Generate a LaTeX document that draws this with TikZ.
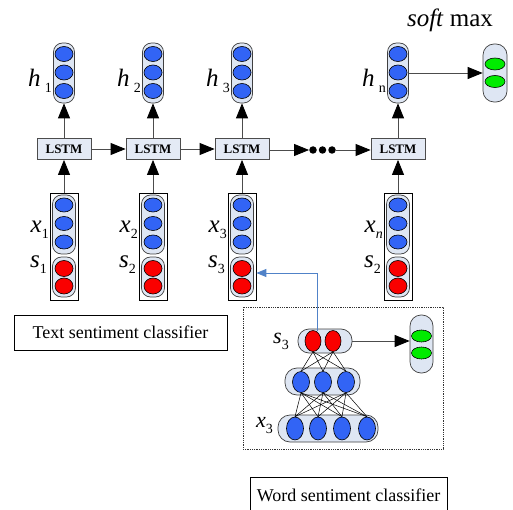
\documentclass[tikz,border=0pt]{standalone}
\usepackage{fontspec}
\setmainfont{Liberation Serif}
\usepackage{xcolor}
\usetikzlibrary{arrows.meta, shapes.geometric, positioning, calc}

\definecolor{capfill}{RGB}{222,230,243}
\definecolor{lstmfill}{RGB}{228,234,245}
\definecolor{unitblue}{RGB}{50,100,245}
\definecolor{unitred}{RGB}{250,0,0}
\definecolor{unitgreen}{RGB}{0,235,0}
\definecolor{linkblue}{RGB}{80,130,200}

\newcommand{\lowsub}[1]{\raisebox{-6pt}{\upshape\fontsize{14}{14}\selectfont #1}}

\begin{document}
\begin{tikzpicture}[x=1pt, y=-1pt,
    capsule/.style={draw=black!75, fill=capfill, rounded corners=9pt, inner sep=0pt, line width=0.7pt},
    unit/.style={ellipse, draw=black, line width=0.6pt, minimum width=18pt, minimum height=15pt, inner sep=0pt},
    blue unit/.style={unit, fill=unitblue},
    red unit/.style={unit, fill=unitred},
    green unit/.style={unit, fill=unitgreen, minimum width=20pt, minimum height=12pt},
    vecbox/.style={draw, line width=0.7pt, minimum width=28pt, minimum height=107pt, inner sep=0pt},
    lstm/.style={draw=black!70, fill=lstmfill, line width=0.8pt, minimum width=54pt, minimum height=21pt, inner sep=0pt, font=\fontsize{13}{14}\selectfont\bfseries},
    vlabel/.style={anchor=base east, inner sep=0pt, font=\fontsize{25}{27}\selectfont\itshape},
    wlabel/.style={anchor=base east, inner sep=0pt, font=\fontsize{22}{24}\selectfont\itshape},
    dot/.style={circle, fill=black, minimum size=7.5pt, inner sep=0pt},
    flow/.style={draw=black!70, line width=0.8pt, -{Triangle[length=15pt, width=12pt, color=black]}},
    link/.style={draw=linkblue, line width=0.8pt, -{Triangle[length=10pt, width=8pt]}},
    wire/.style={draw=black, line width=0.5pt},
    textbox/.style={draw, line width=0.7pt, minimum height=35pt, inner sep=0pt, font=\fontsize{18}{20}\selectfont}
]
\useasboundingbox (0,0) rectangle (513,510);

% Sentence level: columns
\foreach \i/\x/\hs/\xs/\ss in {1/64/1/1/1, 2/153/2/2/2, 3/242/3/3/3, n/398/n/\textit{n}/2} {
    % hidden states
    \node[capsule, minimum width=21pt, minimum height=60pt] (h\i) at (\x,73) {};
    \foreach \j/\y in {1/54, 2/72.5, 3/91}
        \node[blue unit] (h\i-\j) at (\x,\y) {};
    \node[vlabel] (lh\i) at (\x-12,87) {h\,\lowsub{\hs}};
    % LSTM cell
    \node[lstm] (l\i) at (\x,149) {LSTM};
    % input vectors
    \node[vecbox] (x\i) at (\x,246.5) {};
    \node[capsule, minimum width=23pt, minimum height=59pt] (xc\i) at (\x,224.5) {};
    \foreach \j/\y in {1/205, 2/223.5, 3/242}
        \node[blue unit, minimum height=14pt] (x\i-\j) at (\x,\y) {};
    \node[capsule, minimum width=23pt, minimum height=40pt] (sc\i) at (\x,277) {};
    \foreach \j/\y in {1/268.5, 2/286}
        \node[red unit, minimum height=16pt] (s\i-\j) at (\x,\y) {};
    \node[vlabel] (lx\i) at (\x-15,233) {x\lowsub{\xs}};
    \node[vlabel] (ls\i) at (\x-17,267) {s\lowsub{\ss}};
    % arrows
    \draw[flow] (x\i) -- (l\i);
    \draw[flow] (l\i) -- (h\i);
}

% chain
\node[dot] (d1) at (313,150) {};
\node[dot] (d2) at (322.5,150) {};
\node[dot] (d3) at (332,150) {};
\draw[flow] (l1) -- (l2);
\draw[flow] (l2) -- (l3);
\draw[flow] (l3.east |- d1) -- (d1);
\draw[flow] (d3) -- (ln.west |- d3);

% softmax
\node[font=\fontsize{25}{28}\selectfont] (smlabel) at (450,20) {\textit{soft} max};
\node[capsule, minimum width=24pt, minimum height=58pt, rounded corners=11pt] (sm) at (495,73) {};
\node[green unit] (sm-1) at (495,64) {};
\node[green unit] (sm-2) at (495,81.5) {};
\draw[flow] (hn) -- (sm);

\node[textbox, minimum width=213pt] (tsc) at (120.5,332.5) {Text sentiment classifier};

% Word level
\node[draw=black!80, densely dotted, line width=0.8pt, minimum width=200pt, minimum height=142pt] (wframe) at (343,378) {};

\node[capsule, minimum width=54pt, minimum height=24pt, rounded corners=11pt] (wscap) at (325,341) {};
\node[capsule, minimum width=75pt, minimum height=27pt, rounded corners=12pt] (wmcap) at (322.5,381.5) {};
\node[capsule, minimum width=100pt, minimum height=27pt, rounded corners=12pt] (wxcap) at (328,428.5) {};
\foreach \j/\x in {1/313, 2/333}
    \node[red unit, minimum width=16pt, minimum height=21pt] (ws\j) at (\x,341) {};
\foreach \j/\x in {1/301, 2/323, 3/346}
    \node[blue unit, minimum width=17pt, minimum height=21pt] (wm\j) at (\x,382) {};
\foreach \j/\x in {1/295, 2/318, 3/342, 4/367}
    \node[blue unit, minimum width=17pt, minimum height=23pt] (wx\j) at (\x,428.5) {};
\foreach \a in {1,2}
    \foreach \b in {1,2,3}
        \draw[wire] (ws\a.south) -- (wm\b.north);
\foreach \a in {1,2,3}
    \foreach \b in {1,2,3,4}
        \draw[wire] (wm\a.south) -- (wx\b.north);
\node[wlabel] (lws) at (289,343) {s\lowsub{3}};
\node[wlabel] (lwx) at (273,427) {x\lowsub{3}};

\node[capsule, minimum width=23pt, minimum height=58pt, rounded corners=11pt] (wo) at (421.5,344) {};
\node[green unit] (wo-1) at (421.5,336) {};
\node[green unit] (wo-2) at (421.5,353) {};
\draw[flow] (wscap) -- (wscap -| wo.west);

% link to sentence level
\coordinate (tap) at (317,331);
\coordinate (bend) at (317,273);
\draw[link] (tap) -- (bend) -- (bend -| x3.east);

\node[textbox, minimum width=197pt] (wsc) at (348.5,495) {Word sentiment classifier};
\end{tikzpicture}
\end{document}
